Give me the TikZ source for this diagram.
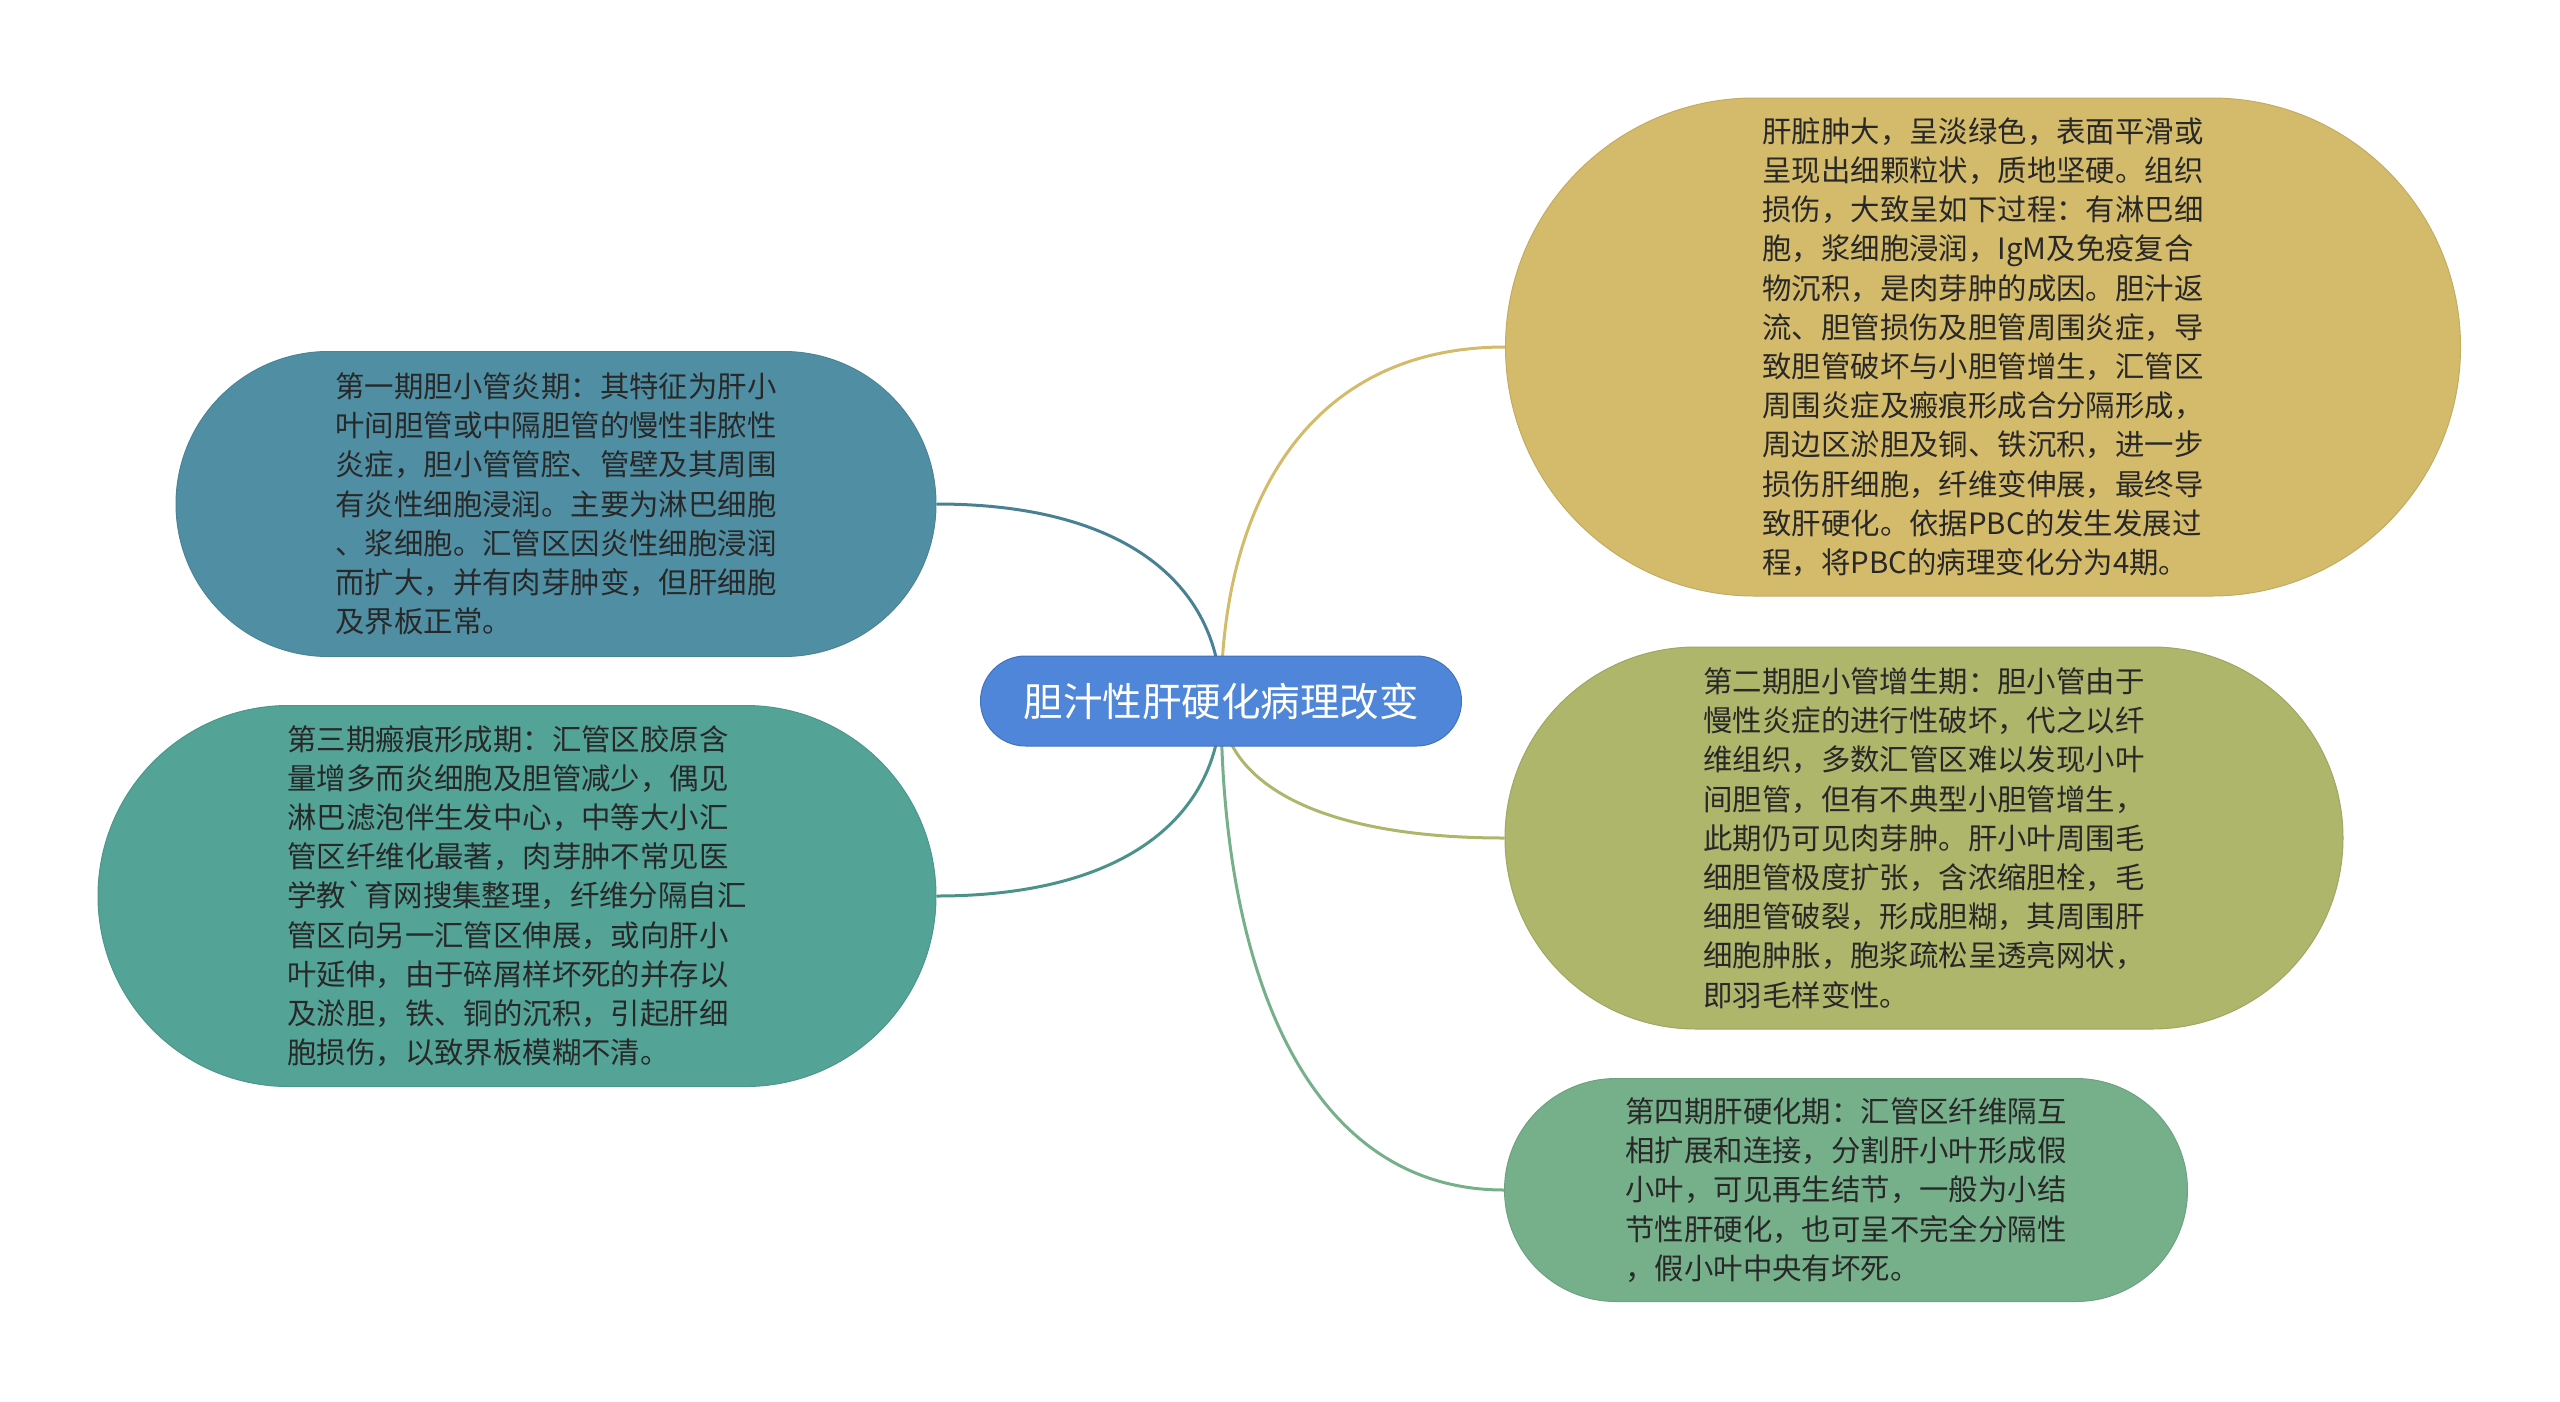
\documentclass[tikz,border=0pt]{standalone}
\usepackage{fontspec}
\newfontfamily\cjk{Noto Sans CJK SC}
\usetikzlibrary{backgrounds,calc}

\definecolor{rootcolor}{RGB}{79,134,218}
\definecolor{goldcolor}{RGB}{212,187,107}
\definecolor{olivecolor}{RGB}{173,182,107}
\definecolor{greencolor}{RGB}{118,176,139}
\definecolor{steelcolor}{RGB}{80,143,163}
\definecolor{tealcolor}{RGB}{83,163,151}
\definecolor{leaftext}{RGB}{40,40,40}

\tikzset{
  roottopic/.style={rectangle, fill=rootcolor, draw=rootcolor!85!black, line width=1pt,
    text=white, inner sep=0pt, minimum width=481pt, minimum height=90pt,
    rounded corners=45pt, font=\cjk\fontsize{39.5}{46}\selectfont},
  subtopic/.style={rectangle, fill=#1, draw=#1!92!black, line width=1pt,
    text=leaftext, inner sep=0pt, align=left,
    font=\cjk\fontsize{29.4}{39.2}\selectfont},
  branch/.style={line width=3pt, draw=#1},
}
% curved branch from the root to a point at the side of a subtopic
\newcommand{\branchto}[3]{%
  \draw[branch=#1] (root.center)
    .. controls ($(root.center)!0.55!(root.center |- #2.#3)$)
    and ($(root.center |- #2.#3)!0.3!(#2.#3)$) .. (#2.#3);}

\begin{document}
\begin{tikzpicture}[x=1pt,y=-1pt]
\useasboundingbox (0,0) rectangle (2560,1401);
% central topic
\node[roottopic] (root) at (1221,701) {胆汁性肝硬化病理改变};
% right side
\node[subtopic=goldcolor, minimum width=955pt, minimum height=498pt, rounded corners=249pt]
  (stage0) at (1983,347) {肝脏肿大，呈淡绿色，表面平滑或\\呈现出细颗粒状，质地坚硬。组织\\损伤，大致呈如下过程：有淋巴细\\胞，浆细胞浸润，IgM及免疫复合\\物沉积，是肉芽肿的成因。胆汁返\\流、胆管损伤及胆管周围炎症，导\\致胆管破坏与小胆管增生，汇管区\\周围炎症及瘢痕形成合分隔形成，\\周边区淤胆及铜、铁沉积，进一步\\损伤肝细胞，纤维变伸展，最终导\\致肝硬化。依据PBC的发生发展过\\程，将PBC的病理变化分为4期。};
\node[subtopic=olivecolor, minimum width=838pt, minimum height=382pt, rounded corners=191pt]
  (stage2) at (1924,838) {第二期胆小管增生期：胆小管由于\\慢性炎症的进行性破坏，代之以纤\\维组织，多数汇管区难以发现小叶\\间胆管，但有不典型小胆管增生，\\此期仍可见肉芽肿。肝小叶周围毛\\细胆管极度扩张，含浓缩胆栓，毛\\细胆管破裂，形成胆糊，其周围肝\\细胞肿胀，胞浆疏松呈透亮网状，\\即羽毛样变性。};
\node[subtopic=greencolor, minimum width=683pt, minimum height=223pt, rounded corners=111.5pt]
  (stage4) at (1846,1190) {第四期肝硬化期：汇管区纤维隔互\\相扩展和连接，分割肝小叶形成假\\小叶，可见再生结节，一般为小结\\节性肝硬化，也可呈不完全分隔性\\，假小叶中央有坏死。};
% left side
\node[subtopic=steelcolor, minimum width=760pt, minimum height=305pt, rounded corners=152.5pt]
  (stage1) at (556,504) {第一期胆小管炎期：其特征为肝小\\叶间胆管或中隔胆管的慢性非脓性\\炎症，胆小管管腔、管壁及其周围\\有炎性细胞浸润。主要为淋巴细胞\\、浆细胞。汇管区因炎性细胞浸润\\而扩大，并有肉芽肿变，但肝细胞\\及界板正常。};
\node[subtopic=tealcolor, minimum width=838pt, minimum height=381pt, rounded corners=190.5pt]
  (stage3) at (517,896) {第三期瘢痕形成期：汇管区胶原含\\量增多而炎细胞及胆管减少，偶见\\淋巴滤泡伴生发中心，中等大小汇\\管区纤维化最著，肉芽肿不常见医\\学教\symbol{96}育网搜集整理，纤维分隔自汇\\管区向另一汇管区伸展，或向肝小\\叶延伸，由于碎屑样坏死的并存以\\及淤胆，铁、铜的沉积，引起肝细\\胞损伤，以致界板模糊不清。};
% connectors
\begin{scope}[on background layer]
\branchto{goldcolor}{stage0}{west}
\branchto{olivecolor}{stage2}{west}
\branchto{greencolor}{stage4}{west}
\branchto{steelcolor!90!black}{stage1}{east}
\branchto{tealcolor!90!black}{stage3}{east}
\end{scope}
\end{tikzpicture}
\end{document}
